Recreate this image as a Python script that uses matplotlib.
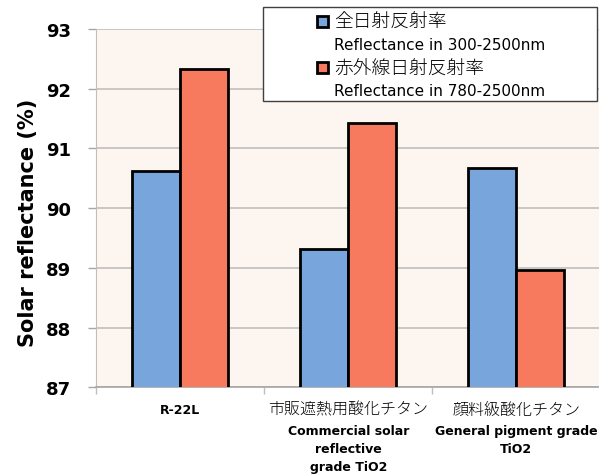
import matplotlib.pyplot as plt
from matplotlib.patches import Patch, Rectangle
import numpy as np

# データ
categories_jp = ['', '市販遮熱用酸化チタン', '顔料級酸化チタン']
categories_en = ['R-22L', 'Commercial solar\nreflective\ngrade TiO2', 'General pigment grade\nTiO2']
total_refl = [90.63, 89.32, 90.67]     # 300-2500nm
ir_refl = [92.33, 91.42, 88.97]        # 780-2500nm
series_jp = ['全日射反射率', '赤外線日射反射率']
series_en = ['Reflectance in 300-2500nm', 'Reflectance in 780-2500nm']
yticks = [87, 88, 89, 90, 91, 92, 93]

blue = '#78A6DC'
red = '#F87A5E'
jp_font = ['Noto Sans CJK JP', 'DejaVu Sans']
en_font = ['DejaVu Sans']

fig = plt.figure(figsize=(5.99, 4.77), dpi=100)
ax = fig.add_axes([0.161, 0.186, 0.841, 0.751])
ax.set_facecolor('#FDF5F0')

x = np.arange(len(categories_en))
w = 0.2857
ax.bar(x - w / 2, total_refl, w, color=blue, edgecolor='black', linewidth=2, zorder=3)
ax.bar(x + w / 2, ir_refl, w, color=red, edgecolor='black', linewidth=2, zorder=3)

ax.set_ylim(87, 93)
ax.set_xlim(-0.5, 2.5)
ax.set_yticks(yticks)
ax.set_yticklabels([str(v) for v in yticks], fontsize=13, fontweight='bold', family=en_font)
ax.yaxis.grid(True, color='#BFBFBF', linewidth=1.2, zorder=0)
ax.tick_params(axis='y', length=6, width=1, color='#A6A6A6', pad=12)

# カテゴリ境界の目盛り
ax.set_xticks([-0.5, 0.5, 1.5, 2.5])
ax.set_xticklabels([])
ax.tick_params(axis='x', length=5, width=1, color='#BFBFBF', direction='out')

for s in ['top', 'right']:
    ax.spines[s].set_visible(False)
ax.spines['left'].set_color('#BFBFBF')
ax.spines['bottom'].set_color('#A6A6A6')
ax.spines['bottom'].set_linewidth(1.2)

ax.set_ylabel('Solar reflectance (%)', fontsize=15, fontweight='bold', family=en_font)
ax.yaxis.set_label_coords(-0.116, 0.461)

# x軸ラベル（日本語 + 英語）
for i in range(len(categories_en)):
    lines = ([categories_jp[i]] if categories_jp[i] else []) + categories_en[i].split('\n')
    for j, line in enumerate(lines):
        is_jp = bool(categories_jp[i]) and j == 0
        ax.annotate(line, (x[i], 0), xycoords=('data', 'axes fraction'),
                    xytext=(0, -15.8 - 13.2 * j - (1.8 if j > 0 and categories_jp[i] else 0)),
                    textcoords='offset points', ha='center', va='center',
                    fontsize=11.5 if is_jp else 9,
                    family=jp_font if is_jp else en_font,
                    fontweight='light' if is_jp else 'bold',
                    annotation_clip=False)

# 凡例（枠は別に描く）
frame = Rectangle((263 / 599, 1 - 102 / 477), 334 / 599, 94 / 477, transform=fig.transFigure,
                  facecolor='white', edgecolor='#404040', linewidth=1, zorder=4)
fig.add_artist(frame)
handles = [Patch(facecolor=blue, edgecolor='black', linewidth=2),
           Patch(facecolor='none', edgecolor='none'),
           Patch(facecolor=red, edgecolor='black', linewidth=2),
           Patch(facecolor='none', edgecolor='none')]
labels = [series_jp[0], series_en[0], series_jp[1], series_en[1]]
leg = fig.legend(handles, labels, loc='upper left', bbox_to_anchor=(317 / 599, 1 - 14 / 477),
                 frameon=False, prop={'family': en_font, 'size': 11},
                 handlelength=0.75, handleheight=0.75, handletextpad=0.35,
                 labelspacing=0.42, borderpad=0, borderaxespad=0)
for i, t in enumerate(leg.get_texts()):
    if i % 2 == 0:
        t.set_family(jp_font)
        t.set_fontsize(13.5)
        t.set_fontweight('light')
leg.set_zorder(5)

fig.savefig('out.png', dpi=100, facecolor='white')
